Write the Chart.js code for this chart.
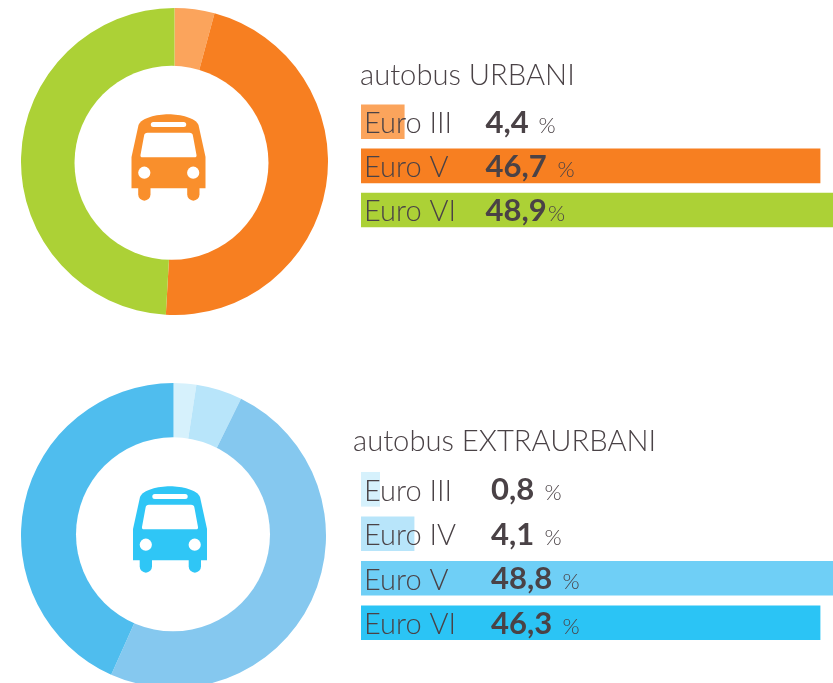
<!DOCTYPE html>
<html>
<head>
<meta charset="utf-8">
<script src="https://cdn.jsdelivr.net/npm/chart.js@4"></script>
<style>
html,body{margin:0;padding:0;background:#fff;width:833px;height:683px;overflow:hidden}
canvas{position:absolute;display:block}
</style>
</head>
<body>
<canvas id="d1" width="307" height="307" style="left:21px;top:8px;width:307px;height:307px"></canvas>
<canvas id="b1" width="473" height="174" style="left:360px;top:58px;width:473px;height:174px"></canvas>
<canvas id="d2" width="305" height="305" style="left:21px;top:383px;width:305px;height:305px"></canvas>
<canvas id="b2" width="480" height="221" style="left:353px;top:424px;width:480px;height:221px"></canvas>
<script>
// ---- data ----
const urbanTitle = 'autobus URBANI';
const urbanCategories = ['Euro III', 'Euro V', 'Euro VI'];
const urbanLabels = ['4,4', '46,7', '48,9'];
const urbanArcs = [4.2, 46.7, 49.1];        // slice sizes as drawn in the reference
const urbanBars = [4.4, 46.7, 48.9];

const extraTitle = 'autobus EXTRAURBANI';
const extraCategories = ['Euro III', 'Euro IV', 'Euro V', 'Euro VI'];
const extraLabels = ['0,8', '4,1', '48,8', '46,3'];
const extraArcs = [2.4, 4.9, 49.4, 43.3];   // slice sizes as drawn in the reference
const extraBars = [1.9, 5.4, 48.8, 46.7];   // bar lengths as drawn in the reference

// ---- styles ----
const urbanArcColors = ['#FBA45C', '#F77F21', '#ACD136'];
const urbanBarColors = ['#FBA45C', '#F77F21', '#ACD136'];
const extraArcColors = ['#D6F1FC', '#B8E5FA', '#85C8EF', '#4FBDEE'];
const extraBarColors = ['#D6F1FC', '#B8E5FA', '#6FCFF6', '#2BC4F5'];
const INK = '#4A4246';
const FONT = 'Lato, "Open Sans", sans-serif';
const PX_PER_UNIT = 9.83;

// hole and bus pictogram; coordinates relative to the chart / icon centre
function centrePlugin(color, offX, offY, holeX, holeY, holeR) {
  return {
    id: 'centre',
    afterDraw(chart) {
      const a = chart.chartArea, c = chart.ctx;
      const mx = (a.left + a.right) / 2, my = (a.top + a.bottom) / 2;
      c.save();
      c.fillStyle = '#fff';
      c.beginPath();
      c.arc(mx + holeX, my + holeY, holeR, 0, Math.PI * 2);
      c.fill();
      c.translate(mx + offX, my + offY);
      c.fillStyle = color;
      // body
      c.beginPath();
      c.moveTo(-37, 31.3);
      c.lineTo(-37, 0);
      c.lineTo(-30, -32);
      c.bezierCurveTo(-27, -39, -12, -42.7, 0, -42.7);
      c.bezierCurveTo(12, -42.7, 27, -39, 30, -32);
      c.lineTo(37, 0);
      c.lineTo(37, 31.3);
      c.closePath();
      c.fill();
      // wheels
      [[-30.3, -18], [18.7, 31]].forEach(([l, r]) => {
        c.beginPath();
        c.moveTo(l, 30);
        c.lineTo(r, 30);
        c.lineTo(r, 37.5);
        c.arc((l + r) / 2, 37.5, (r - l) / 2, 0, Math.PI);
        c.closePath();
        c.fill();
      });
      c.fillStyle = '#fff';
      // roof slot
      c.beginPath();
      c.roundRect(-17.7, -35, 35.4, 5, 2.5);
      c.fill();
      // windscreen
      c.beginPath();
      c.moveTo(-21, -24.3);
      c.lineTo(21, -24.3);
      c.quadraticCurveTo(24, -24.3, 24.4, -21.5);
      c.lineTo(28, -2);
      c.quadraticCurveTo(28.4, 0.3, 26, 0.3);
      c.lineTo(-26, 0.3);
      c.quadraticCurveTo(-28.4, 0.3, -28, -2);
      c.lineTo(-24.4, -21.5);
      c.quadraticCurveTo(-24, -24.3, -21, -24.3);
      c.closePath();
      c.fill();
      // headlights
      [-24.2, 24.7].forEach(x => {
        c.beginPath();
        c.arc(x, 15.7, 6.1, 0, Math.PI * 2);
        c.fill();
      });
      c.restore();
    }
  };
}

function doughnut(id, categories, values, colors, plugin) {
  return new Chart(document.getElementById(id), {
    type: 'doughnut',
    data: { labels: categories, datasets: [{ data: values, backgroundColor: colors, borderWidth: 0 }] },
    options: {
      responsive: false, animation: false, cutout: '58%',
      layout: { padding: 0 },
      plugins: { legend: { display: false }, tooltip: { enabled: false } }
    },
    plugins: [plugin]
  });
}

function valuePlugin(labels, valueX, percentX) {
  return {
    id: 'values',
    afterDatasetsDraw(chart) {
      const c = chart.ctx, els = chart.getDatasetMeta(0).data;
      const left = chart.canvas.offsetLeft;
      c.save();
      c.fillStyle = INK;
      c.textBaseline = 'alphabetic';
      c.textAlign = 'left';
      els.forEach((el, i) => {
        c.font = '700 31px ' + FONT;
        c.fillText(labels[i], valueX - left, el.y + 11);
        c.font = '300 22px ' + FONT;
        c.fillText('%', percentX[i] - left, el.y + 11);
      });
      c.restore();
    }
  };
}

function bars(id, title, categories, values, colors, labels, insetLeft, titleGap, valueX, percentX) {
  const canvas = document.getElementById(id);
  return new Chart(canvas, {
    type: 'bar',
    data: { labels: categories, datasets: [{ data: values, backgroundColor: colors, borderWidth: 0, barThickness: 34 }] },
    options: {
      indexAxis: 'y', responsive: false, animation: false,
      layout: { padding: 0 },
      scales: {
        x: { display: false, min: 0, max: (canvas.width - insetLeft) / PX_PER_UNIT },
        y: {
          afterFit(s) { s.width = insetLeft; s.paddingTop = 0; s.paddingBottom = 0; },
          grid: { display: false }, border: { display: false },
          ticks: { mirror: true, z: 1, padding: 3, labelOffset: 2, color: INK, autoSkip: false,
                   font: { family: FONT, size: 29, weight: 300 } }
        }
      },
      plugins: {
        legend: { display: false }, tooltip: { enabled: false },
        title: { display: true, text: title, align: 'start', color: INK,
                 font: { family: FONT, size: 29.2, weight: 300, lineHeight: 1.2 },
                 padding: { top: 0, bottom: titleGap } }
      }
    },
    plugins: [valuePlugin(labels, valueX, percentX)]
  });
}

doughnut('d1', urbanCategories, urbanArcs, urbanArcColors, centrePlugin('#F98F2C', -6, -4.5, -3, 1.3, 97));
doughnut('d2', extraCategories, extraArcs, extraArcColors, centrePlugin('#2FC6F6', -3.5, -6.5, -0.5, -1.2, 97));
bars('b1', urbanTitle, urbanCategories, urbanBars, urbanBarColors, urbanLabels, 1, 6.7, 485.5, [538.5, 557.5, 548]);
bars('b2', extraTitle, extraCategories, extraBars, extraBarColors, extraLabels, 8, 8, 491, [544.5, 544.5, 562.5, 562.5]);
</script>
</body>
</html>
